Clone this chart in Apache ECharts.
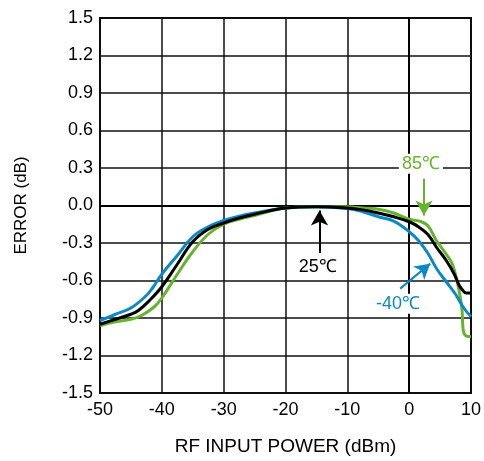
<!DOCTYPE html>
<html>
<head>
<meta charset="utf-8">
<script src="https://cdn.jsdelivr.net/npm/echarts@6/dist/echarts.min.js"></script>
<style>html,body{margin:0;padding:0;background:#fff}#c{width:484px;height:461px}</style>
</head>
<body>
<div id="c"></div>
<script>
// Data (x: RF input power dBm, y: error dB)
var xTicks = [-50, -40, -30, -20, -10, 0, 10];
var yTicks = [-1.5, -1.2, -0.9, -0.6, -0.3, 0.0, 0.3, 0.6, 0.9, 1.2, 1.5];

var xM40 = [-50, -47.5, -45, -42.5, -41.5, -40, -37.5, -35, -32.5, -30, -27.5, -25, -20, -15, -10, -7.5, -5, -2.5, 0, 1.5, 3, 4.5, 6, 7.5, 8.7, 10];
var yM40 = [-0.92, -0.87, -0.82, -0.72, -0.66, -0.55, -0.40, -0.25, -0.17, -0.12, -0.085, -0.06, -0.02, -0.01, -0.025, -0.05, -0.09, -0.125, -0.21, -0.28, -0.38, -0.51, -0.61, -0.71, -0.81, -0.89];

var x25 = [-50, -47.5, -45, -43.8, -42, -40, -37.5, -35, -32.5, -30, -27.5, -25, -20, -15, -10, -7.5, -5, -2.5, 0, 1.5, 3, 4.5, 6, 7.3, 8.1, 8.7, 9.2, 10];
var y25 = [-0.95, -0.91, -0.87, -0.84, -0.76, -0.65, -0.47, -0.29, -0.19, -0.14, -0.10, -0.07, -0.02, -0.01, -0.02, -0.035, -0.06, -0.09, -0.13, -0.17, -0.23, -0.34, -0.44, -0.55, -0.64, -0.68, -0.70, -0.70];

var x85 = [-50, -47.5, -45, -43.3, -41.2, -40, -37.5, -35, -32.5, -30, -27.5, -25, -20, -15, -10, -7.5, -5, -2.5, 0, 1.7, 3, 4.4, 6, 7, 7.85, 8.5, 8.75, 9.1, 10];
var y85 = [-0.96, -0.93, -0.91, -0.88, -0.81, -0.74, -0.55, -0.37, -0.23, -0.15, -0.11, -0.08, -0.02, -0.01, -0.01, -0.02, -0.03, -0.06, -0.11, -0.125, -0.16, -0.28, -0.39, -0.47, -0.63, -0.81, -1.0, -1.04, -1.05];

// Annotations: label text, label position, arrow start, arrow end (data coords)
var ann85 = {text: '85℃', at: [1.9, 0.335], from: [2.4, 0.215], to: [2.4, -0.08]};
var ann25 = {text: '25℃', at: [-14.8, -0.49], from: [-14.5, -0.38], to: [-14.5, -0.04]};
var annM40 = {text: '-40℃', at: [-1.8, -0.785], from: [-1.45, -0.665], to: [3.4, -0.465]};

var GREEN = '#66b32e', BLUE = '#0a89c6', BLACK = '#000000';
var FONT = 'Liberation Sans, Arial, sans-serif';

function zip(xs, ys) { return xs.map(function (x, i) { return [x, ys[i]]; }); }

function annot(a, color, w) {
  return {
    markLine: {
      silent: true, animation: false,
      symbol: ['none', 'arrow'], symbolSize: [13, 15],
      lineStyle: {color: color, width: 2, type: 'solid'},
      label: {show: false},
      data: [[{coord: a.from}, {coord: a.to}]]
    },
    markPoint: {
      silent: true, animation: false,
      symbol: 'rect', symbolSize: [w, 20],
      itemStyle: {color: '#ffffff'},
      label: {show: true, position: 'inside', formatter: a.text, color: color, fontSize: 18, fontFamily: FONT},
      data: [{coord: a.at}]
    }
  };
}

function series(name, xs, ys, color, a, w) {
  var s = {
    name: name, type: 'line', data: zip(xs, ys),
    showSymbol: false, smooth: 0.4,
    lineStyle: {color: color, width: 3}, itemStyle: {color: color},
    animation: false, z: 3
  };
  var m = annot(a, color, w);
  s.markLine = m.markLine; s.markPoint = m.markPoint;
  return s;
}

var chart = echarts.init(document.getElementById('c'), null, {renderer: 'canvas'});
chart.setOption({
  backgroundColor: '#fff',
  animation: false,
  grid: {left: 100, right: 11, top: 18, bottom: 68, show: true, borderColor: '#000', borderWidth: 2, backgroundColor: 'transparent'},
  xAxis: {
    type: 'value', min: xTicks[0], max: xTicks[xTicks.length - 1], interval: 10,
    axisLine: {show: true, lineStyle: {color: '#000', width: 2}},
    axisTick: {show: false},
    splitLine: {show: true, lineStyle: {color: '#111', width: 1.5}},
    axisLabel: {color: '#000', fontSize: 18, fontFamily: FONT, margin: 8},
    name: 'RF INPUT POWER (dBm)', nameLocation: 'middle', nameGap: 44,
    nameTextStyle: {color: '#000', fontSize: 19, fontFamily: FONT}
  },
  yAxis: {
    type: 'value', min: yTicks[0], max: yTicks[yTicks.length - 1], interval: 0.3,
    axisLine: {show: true, lineStyle: {color: '#000', width: 2}},
    axisTick: {show: false},
    splitLine: {show: true, lineStyle: {color: '#111', width: 1.5}},
    axisLabel: {color: '#000', fontSize: 18, fontFamily: FONT, margin: 7,
      formatter: function (v) { return (Math.round(v * 10) / 10).toFixed(1); }},
    name: 'ERROR (dB)', nameLocation: 'middle', nameGap: 70,
    nameTextStyle: {color: '#000', fontSize: 17, fontFamily: FONT}
  },
  series: [
    series('85℃', x85, y85, GREEN, ann85, 44),
    series('-40℃', xM40, yM40, BLUE, annM40, 50),
    series('25℃', x25, y25, BLACK, ann25, 44)
  ]
});
</script>
</body>
</html>
